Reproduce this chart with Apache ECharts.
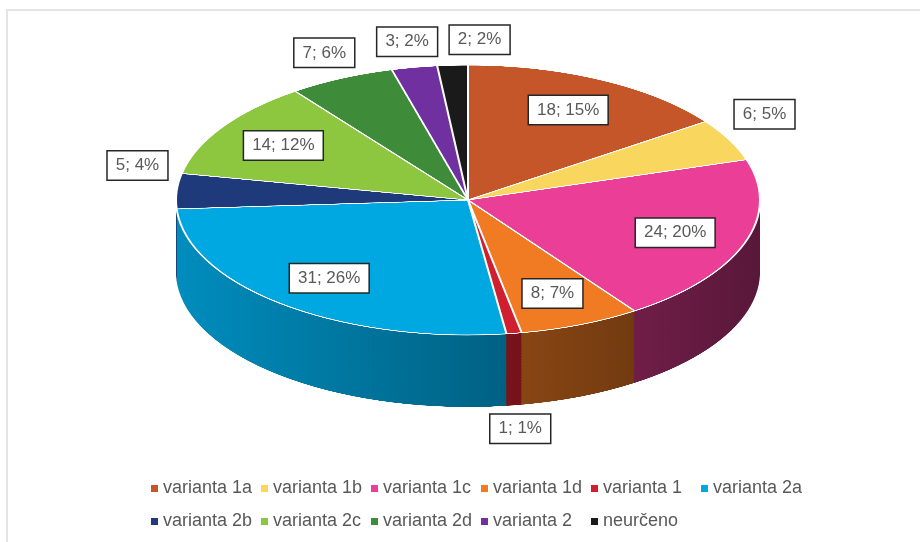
<!DOCTYPE html>
<html><head><meta charset="utf-8">
<script src="https://cdn.jsdelivr.net/npm/echarts@6/dist/echarts.min.js"></script>
<style>
body{margin:0;background:#fff;width:920px;height:542px;overflow:hidden;position:relative}
#frame{position:absolute;left:6px;top:9px;width:914px;height:533px;border-top:2px solid #e4e4e4;border-left:2px solid #e4e4e4;box-sizing:border-box}
#pie{position:absolute;left:0;top:0;width:920px;height:1100px;transform-origin:0 0}
#lab{position:absolute;left:0;top:0;width:920px;height:542px}
</style></head><body>
<div id="frame"></div><div id="pie"></div><div id="lab"></div>
<script>
// ---- data ----
const categories = ['varianta 1a','varianta 1b','varianta 1c','varianta 1d','varianta 1','varianta 2a','varianta 2b','varianta 2c','varianta 2d','varianta 2','neurčeno'];
const values = [18, 6, 24, 8, 1, 31, 5, 14, 7, 3, 2];
// ---- styles ----
const colors = ['#C5562A','#F9D65E','#EA3E97','#F07B23','#D0202F','#00A8E2','#1F3A7A','#8DC63F','#3E8B3A','#7030A0','#1A1A1A'];

const CX = 468, CY = 200, RX = 292, RY = 135, DEPTH = 72, STEP = 1.5;
const K = RY / RX;
const FONT = 'Liberation Sans';

function shade(hex, f){
  const n = parseInt(hex.slice(1),16);
  const r = Math.round(((n>>16)&255)*f), g = Math.round(((n>>8)&255)*f), b = Math.round((n&255)*f);
  return 'rgb('+r+','+g+','+b+')';
}
function sideGrad(c){
  return {type:'linear', x:CX-RX, y:0, x2:CX+RX, y2:0, global:true,
    colorStops:[{offset:0,color:shade(c,0.84)},{offset:1,color:shade(c,0.38)}]};
}

const pieEl = document.getElementById('pie');
pieEl.style.transform = 'scaleY(' + K + ')';
const pieChart = echarts.init(pieEl, null, {devicePixelRatio: 2});

function pieLayer(d, side){
  return {
    type:'pie', silent:true, animation:false,
    radius:[0, RX], center:[CX, (CY + d) / K],
    startAngle:90, clockwise:true,
    label:{show:false}, labelLine:{show:false}, emphasis:{disabled:true},
    data: values.map((v,i)=>({
      value:v, name:categories[i],
      itemStyle: side ? {color: sideGrad(colors[i]), borderWidth:0}
                      : {color: colors[i], borderColor:'#ffffff', borderWidth:2}
    }))
  };
}
const layers = [];
for (let d = DEPTH; d > 0.01; d -= STEP) layers.push(pieLayer(d, true));
layers.push(pieLayer(0, false));
pieChart.setOption({animation:false, series: layers});

// ---- labels + legend ----
const total = values.reduce((a,b)=>a+b, 0);
function midAngle(i){
  let s = 0; for (let j=0;j<i;j++) s += values[j];
  return (s + values[i]/2) / total * 2 * Math.PI;
}
let placed = [];
function layoutFn(p){
  const i = p.dataIndex, t = midAngle(i), sn = Math.sin(t), cs = Math.cos(t);
  const w = p.labelRect.width, h = p.labelRect.height;
  if (i === 0) placed = [];
  let x, y;
  if (values[i] / total >= 0.065){
    x = CX + 0.75*RX*sn; y = CY - 0.75*RY*cs;
  } else {
    x = CX + RX*sn + sn*(w/2 + 8);
    y = CY - RY*cs + (cs >= 0 ? -(h/2 + 10) : (h/2 + 8 + DEPTH));
  }
  // simple overlap avoidance: push right of any earlier overlapping label
  for (const r of placed){
    if (Math.abs(y - r.y) < (h + r.h)/2 && Math.abs(x - r.x) < (w + r.w)/2 + 6){
      x = r.x + (w + r.w)/2 + 10;
    }
  }
  placed.push({x:x, y:y, w:w, h:h});
  return {x:x, y:y, align:'center', verticalAlign:'middle'};
}

const lab = echarts.init(document.getElementById('lab'));
lab.setOption({
  animation:false,
  color: colors,
  legend:{
    left:146, top:471, width:690, orient:'horizontal',
    icon:'rect', itemWidth:7, itemHeight:7, itemGap:8,
    textStyle:{color:'#595959', fontSize:18, lineHeight:25, fontFamily:FONT, width:90},
    data: categories
  },
  series:[{
    type:'pie', radius:[0,0], center:[CX, CY], startAngle:90, clockwise:true,
    percentPrecision:0, silent:true,
    label:{show:true, position:'inside', formatter:'{c}; {d}%',
      color:'#595959', fontSize:17, fontFamily:FONT,
      backgroundColor:'#ffffff', borderColor:'#262626', borderWidth:1.5,
      padding:[6,8,5,8]},
    labelLine:{show:false},
    labelLayout: layoutFn,
    data: values.map((v,i)=>({value:v, name:categories[i]}))
  }]
});
</script>
</body></html>
